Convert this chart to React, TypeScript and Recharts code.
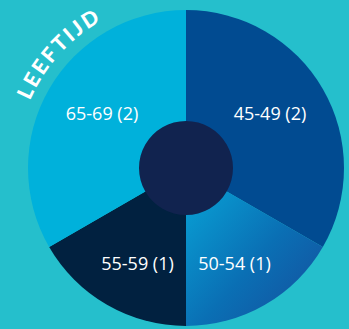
import { PieChart, Pie, Cell, Customized } from 'recharts'

const ageGroups = ['45-49', '50-54', '55-59', '65-69']
const counts = [2, 1, 1, 2]
const sliceColors = ['#014b91', 'url(#gradSlice)', '#012140', '#00b1db']
const title = 'LEEFTIJD'

const data = ageGroups.map((name, i) => ({ name, value: counts[i] }))
const hub = [{ name: 'hub', value: 1 }]

const W = 349
const H = 329
const CX = 186
const CY = 168
const RADIUS = 158
const RAD = Math.PI / 180

function renderLabel(props: any) {
  const { cx, cy, midAngle, index } = props
  // labels sit on a slightly tall ellipse inside the ring
  const x = cx + 97 * Math.cos(-midAngle * RAD)
  const y = cy + 110 * Math.sin(-midAngle * RAD)
  return (
    <text
      x={x}
      y={y}
      fill="#ffffff"
      textAnchor="middle"
      dominantBaseline="central"
      fontSize={18}
      fontFamily="'Open Sans', sans-serif"
    >
      {`${ageGroups[index]} (${counts[index]})`}
    </text>
  )
}

function ArcTitle() {
  // arc the title follows, drawn left-bottom to top-right around the pie
  const r = 170
  const a0 = 176 * RAD
  const a1 = 100 * RAD
  const x0 = CX + r * Math.cos(a0)
  const y0 = CY - r * Math.sin(a0)
  const x1 = CX + r * Math.cos(a1)
  const y1 = CY - r * Math.sin(a1)
  return (
    <g>
      <path id="titleArc" d={`M ${x0} ${y0} A ${r} ${r} 0 0 1 ${x1} ${y1}`} fill="none" />
      <text
        fill="#ffffff"
        fontSize={21}
        fontWeight={900}
        letterSpacing={2.5}
        fontFamily="Lato, sans-serif"
      >
        <textPath href="#titleArc" startOffset="50%" textAnchor="middle">
          {title}
        </textPath>
      </text>
    </g>
  )
}

export default function App() {
  return (
    <div style={{ position: 'absolute', left: 0, top: 0, width: W, height: H, background: '#25bfcc' }}>
      <PieChart width={W} height={H} margin={{ top: 0, right: 0, bottom: 0, left: 0 }}>
        <defs>
          <linearGradient id="gradSlice" x1="0" y1="0" x2="1" y2="1">
            <stop offset="0%" stopColor="#08a8da" />
            <stop offset="55%" stopColor="#0a6fb4" />
            <stop offset="100%" stopColor="#164c9b" />
          </linearGradient>
        </defs>
        <Pie
          data={data}
          dataKey="value"
          cx={CX}
          cy={CY}
          outerRadius={RADIUS}
          startAngle={90}
          endAngle={-270}
          stroke="none"
          label={renderLabel}
          labelLine={false}
          isAnimationActive={false}
        >
          {data.map((d, i) => (
            <Cell key={d.name} fill={sliceColors[i]} />
          ))}
        </Pie>
        <Pie
          data={hub}
          dataKey="value"
          cx={CX}
          cy={CY}
          outerRadius={47}
          stroke="none"
          fill="#11234f"
          isAnimationActive={false}
        />
        <Customized component={ArcTitle} />
      </PieChart>
    </div>
  )
}
